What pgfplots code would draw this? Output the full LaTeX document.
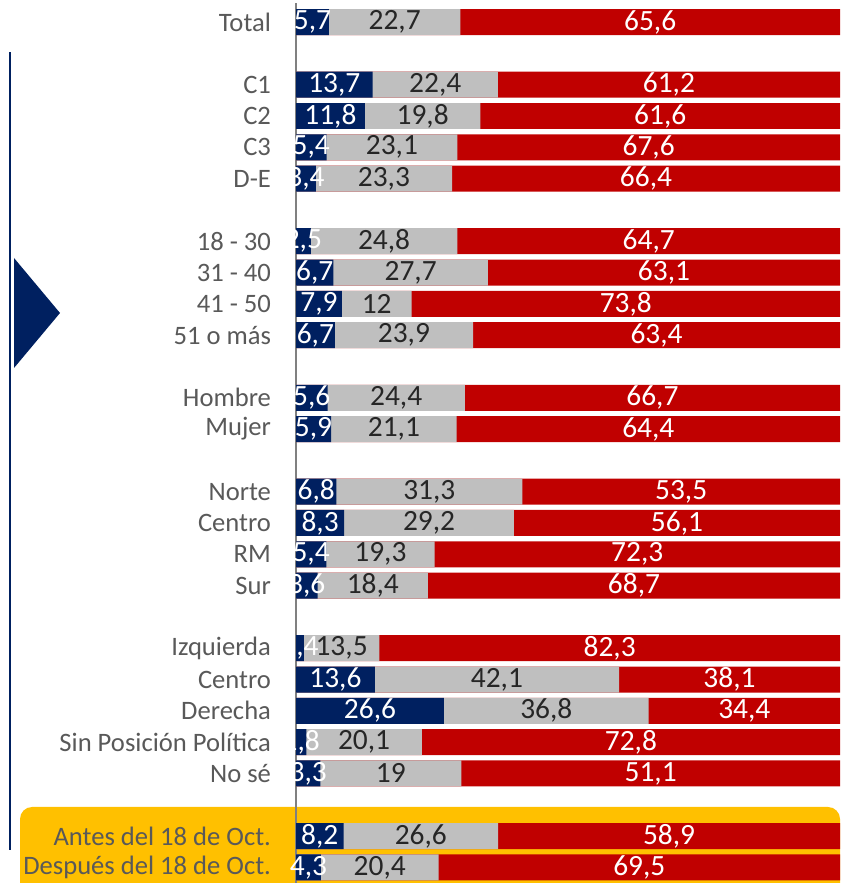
\documentclass[border=0pt]{standalone}
\usepackage{pgfplots}
\pgfplotsset{compat=1.18}
\usepackage{pgfplotstable}
\usepackage{fontspec}
\setmainfont{Carlito}
\definecolor{navy}{HTML}{002060}
\definecolor{barred}{HTML}{C00000}
\definecolor{bargray}{HTML}{BFBFBF}
\definecolor{labgray}{HTML}{595959}
\definecolor{valdark}{HTML}{262626}
\definecolor{gold}{HTML}{FFC000}

\pgfplotstableread{
pos a b c
0 5.7 22.7 65.6
2 13.7 22.4 61.2
3 11.8 19.8 61.6
4 5.4 23.1 67.6
5 3.4 23.3 66.4
7 2.5 24.8 64.7
8 6.7 27.7 63.1
9 7.9 12 73.8
10 6.7 23.9 63.4
12 5.6 24.4 66.7
13 5.9 21.1 64.4
15 6.8 31.3 53.5
16 8.3 29.2 56.1
17 5.4 19.3 72.3
18 3.6 18.4 68.7
20 1.4 13.5 82.3
21 13.6 42.1 38.1
22 26.6 36.8 34.4
23 1.8 20.1 72.8
24 3.3 19 51.1
26 8.2 26.6 58.9
27 4.3 20.4 69.5
}\data

\pgfplotsset{
  vallab/.style={draw=none, mark=none, nodes near coords={\pgfmathprintnumber[use comma,fixed,precision=1,assume math mode=true]{\pgfplotspointmeta}},
    point meta=explicit,
    every node near coord/.style={anchor=center, inner sep=0pt, font=\fontsize{14.7}{16}\selectfont, text=#1}},
  segbar/.style={xbar, bar shift=0pt, draw=none, fill=#1}
}

\begin{document}
\begin{tikzpicture}[x=1pt,y=1pt]
\path[use as bounding box] (0,0) rectangle (420.5,441.5);
\fill[gold, rounded corners=6pt] (10,-20) rectangle (420,38);
\draw[navy, line width=1.2pt] (5,16.5) -- (5,415.5);
\fill[navy] (7,257.5) -- (30,285) -- (7,312.5) -- cycle;
\begin{axis}[
  at={(148pt,0pt)}, anchor=south west,
  scale only axis, width=272pt, height=439.85pt,
  xmin=0, xmax=100, ymin=-0.6, ymax=27.5, y dir=reverse,
  axis x line=none, axis y line*=left,
  y axis line style={-, color=gray, line width=1pt},
  bar width=0.83,
  major tick length=0pt,
  ytick={0,2,3,4,5,7,8,9,10,12,13,15,16,17,18,20,21,22,23,24,26,27},
  yticklabels={Total,C1,C2,C3,D-E,18 - 30,31 - 40,41 - 50,51 o más,Hombre,Mujer,Norte,Centro,RM,Sur,Izquierda,Centro\ ,Derecha,Sin Posición Política,No sé,Antes del 18 de Oct.,Después del 18 de Oct.},
  yticklabel style={font=\fontsize{13.3}{15}\selectfont, text=labgray, xshift=-9pt},
  clip=false,
]
\addplot[segbar=barred] table[y=pos, x expr={(\thisrow{a}+\thisrow{b}+\thisrow{c})*100/(\thisrow{a}+\thisrow{b}+\thisrow{c})}] \data;
\addplot[segbar=bargray] table[y=pos, x expr={(\thisrow{a}+\thisrow{b})*100/(\thisrow{a}+\thisrow{b}+\thisrow{c})}] \data;
\addplot[segbar=navy] table[y=pos, x expr={\thisrow{a}*100/(\thisrow{a}+\thisrow{b}+\thisrow{c})}] \data;
\addplot[vallab=white] table[y=pos, x expr={(0.5*\thisrow{a})*100/(\thisrow{a}+\thisrow{b}+\thisrow{c})}, meta=a] \data;
\addplot[vallab=valdark] table[y=pos, x expr={(\thisrow{a}+0.5*\thisrow{b})*100/(\thisrow{a}+\thisrow{b}+\thisrow{c})}, meta=b] \data;
\addplot[vallab=white] table[y=pos, x expr={(\thisrow{a}+\thisrow{b}+0.5*\thisrow{c})*100/(\thisrow{a}+\thisrow{b}+\thisrow{c})}, meta=c] \data;
\end{axis}
\end{tikzpicture}
\end{document}
